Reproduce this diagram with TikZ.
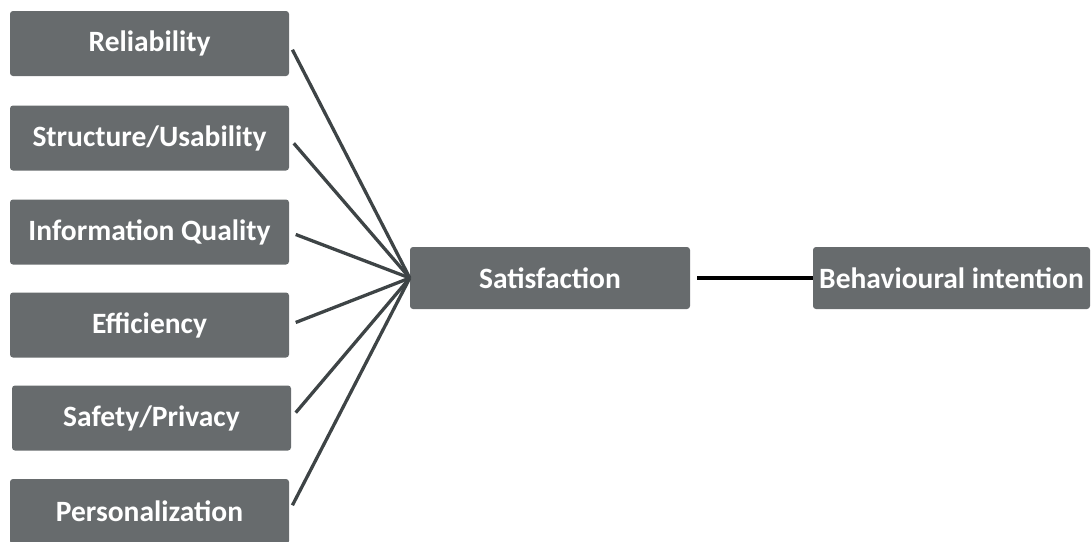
\documentclass[tikz,border=0pt]{standalone}
\usepackage{fontspec}
\setmainfont{Carlito}
\definecolor{boxgray}{HTML}{676B6D}
\definecolor{linegray}{HTML}{3E4446}
\begin{document}
\begin{tikzpicture}[x=1pt,y=-1pt,
  box/.style={fill=boxgray, rounded corners=3pt, text=white, font=\fontsize{29.5}{31}\selectfont\bfseries,
    minimum width=279pt, minimum height=65pt, inner sep=0pt, anchor=center},
  link/.style={draw=linegray, line width=3.3pt, shorten <=7pt},
  strong/.style={draw=black, line width=4.5pt, shorten <=7pt}]
\useasboundingbox (0,0) rectangle (1092,541);
\node[box] (rel) at (149.5,43.5) {Reliability};
\node[box] (str) at (149.5,138) {Structure/Usability};
\node[box] (inf) at (149.5,232) {Information Quality};
\node[box] (eff) at (149.5,325) {Efficiency};
\node[box] (saf) at (151.5,418) {Safety/Privacy};
\node[box] (per) at (149.5,511.5) {Personalization};
\node[box, minimum width=280pt, minimum height=62pt] (sat) at (550,278) {Satisfaction};
\node[box, minimum width=277pt, minimum height=62pt] (beh) at (951.5,278) {Behavioural intention};
\foreach \n in {rel,str,inf,eff,saf,per}
  \draw[link] (\n.east) -- (sat.west);
\draw[strong] (sat.east) -- (beh.west);
\end{tikzpicture}
\end{document}
